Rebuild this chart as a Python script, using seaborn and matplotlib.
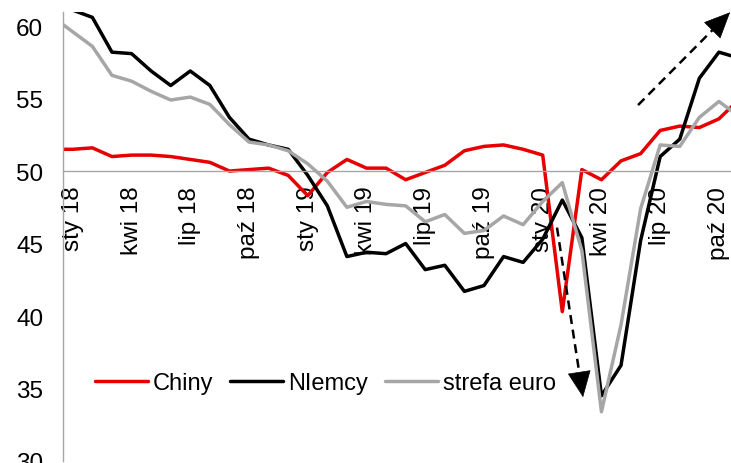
import numpy as np
import pandas as pd
import matplotlib
matplotlib.use("Agg")
import matplotlib.pyplot as plt
import seaborn as sns

# Monthly manufacturing PMI, Dec 2017 - Nov 2020
months = pd.date_range("2017-12-01", "2020-11-01", freq="MS")

chiny = [51.5, 51.5, 51.6, 51.0, 51.1, 51.1, 51.0, 50.8, 50.6, 50.0, 50.1, 50.2,
         49.7, 48.3, 49.9, 50.8, 50.2, 50.2, 49.4, 49.9, 50.4, 51.4, 51.7, 51.8,
         51.5, 51.1, 40.3, 50.1, 49.4, 50.7, 51.2, 52.8, 53.1, 53.0, 53.6, 54.9]
niemcy = [63.3, 61.1, 60.6, 58.2, 58.1, 56.9, 55.9, 56.9, 55.9, 53.7, 52.2, 51.8,
          51.5, 49.7, 47.6, 44.1, 44.4, 44.3, 45.0, 43.2, 43.5, 41.7, 42.1, 44.1,
          43.7, 45.3, 48.0, 45.4, 34.5, 36.6, 45.2, 51.0, 52.2, 56.4, 58.2, 57.8]
strefa_euro = [60.6, 59.6, 58.6, 56.6, 56.2, 55.5, 54.9, 55.1, 54.6, 53.2, 52.0, 51.8,
               51.4, 50.5, 49.3, 47.5, 47.9, 47.7, 47.6, 46.5, 47.0, 45.7, 45.9, 46.9,
               46.3, 47.9, 49.2, 44.5, 33.4, 39.4, 47.4, 51.8, 51.7, 53.7, 54.8, 53.8]

series_names = ["Chiny", "NIemcy", "strefa euro"]
series_colors = ["#E60000", "#000000", "#A6A6A6"]

tick_labels = ["sty 18", "kwi 18", "lip 18", "paź 18",
               "sty 19", "kwi 19", "lip 19", "paź 19",
               "sty 20", "kwi 20", "lip 20", "paź 20"]
y_ticks = [30, 35, 40, 45, 50, 55, 60]

# month index: Jan 2018 = 0
idx = np.arange(len(months)) - 1
df = pd.concat([
    pd.DataFrame({"m": idx, "pmi": vals, "seria": name})
    for name, vals in zip(series_names, [chiny, niemcy, strefa_euro])
], ignore_index=True)

sns.set_style("white")
plt.rcParams["font.family"] = ["Liberation Sans", "DejaVu Sans"]
plt.rcParams["text.color"] = "black"
plt.rcParams["xtick.labelcolor"] = "black"
plt.rcParams["ytick.labelcolor"] = "black"
FS = 17.5
plt.rcParams["font.size"] = FS

W, H = 731, 464
fig = plt.figure(figsize=(W / 100, H / 100), dpi=100)
ax = fig.add_axes([63 / W, 2 / H, 668 / W, 449 / H])

sns.lineplot(data=df, x="m", y="pmi", hue="seria", hue_order=series_names,
             palette=dict(zip(series_names, series_colors)), linewidth=2.5,
             errorbar=None, legend=False, ax=ax)

ax.set_xlim(-0.5, -0.5 + 668 / 19.58)
ax.set_ylim(30, 60.97)
ax.set_xlabel("")
ax.set_ylabel("")
ax.set_axisbelow(True)

axis_grey = "#A6A6A6"
for s in ["top", "right"]:
    ax.spines[s].set_visible(False)
ax.spines["left"].set_color(axis_grey)
ax.spines["left"].set_linewidth(1.0)
ax.spines["bottom"].set_position(("data", 50))
ax.spines["bottom"].set_color(axis_grey)
ax.spines["bottom"].set_linewidth(1.0)

# quarter labels centred on months, tick marks on quarter boundaries
label_pos = np.arange(0, 3 * len(tick_labels), 3)
ax.set_xticks(label_pos)
ax.set_xticklabels(tick_labels, rotation=90, va="top", ha="center")
ax.set_xticks(label_pos - 0.5, minor=True)
ax.tick_params(axis="x", which="major", length=0, pad=10.5, labelsize=FS,
               labelcolor="black")
ax.tick_params(axis="x", which="minor", length=3.8, width=1.0,
               color=axis_grey, direction="out")

ax.set_yticks(y_ticks)
ax.set_yticklabels([str(v) for v in y_ticks])
ax.tick_params(axis="y", length=3.8, width=1.0, color=axis_grey,
               direction="out", pad=10.5, labelsize=FS, labelcolor="black")

# trend arrows (dashed shafts with solid heads)
dash = (0, (3.6, 2.3))
arrows = [((24.73, 46.1), (26.06, 34.4)),
          ((28.87, 54.55), (33.57, 60.95))]
for (x0, y0), (x1, y1) in arrows:
    fx = x0 + (x1 - x0) * 0.93
    fy = y0 + (y1 - y0) * 0.93
    ax.plot([x0, fx], [y0, fy], color="black", lw=1.8, linestyle=dash,
            clip_on=False, zorder=4)
    ax.annotate("", xy=(x1, y1), xytext=(fx, fy),
                arrowprops=dict(arrowstyle="-|>,head_length=1.0,head_width=0.45",
                                color="black", lw=0.5, shrinkA=0, shrinkB=0),
                annotation_clip=False, zorder=5)

handles = ax.lines[:3]
ax.legend(handles, series_names, loc="center left",
          bbox_to_anchor=((95 - 63) / 668, (462 - 384) / 449),
          ncol=3, frameon=False, handlelength=2.25, handletextpad=0.2,
          columnspacing=0.72, borderpad=0, borderaxespad=0, fontsize=17)

fig.savefig("out.png", dpi=100)
